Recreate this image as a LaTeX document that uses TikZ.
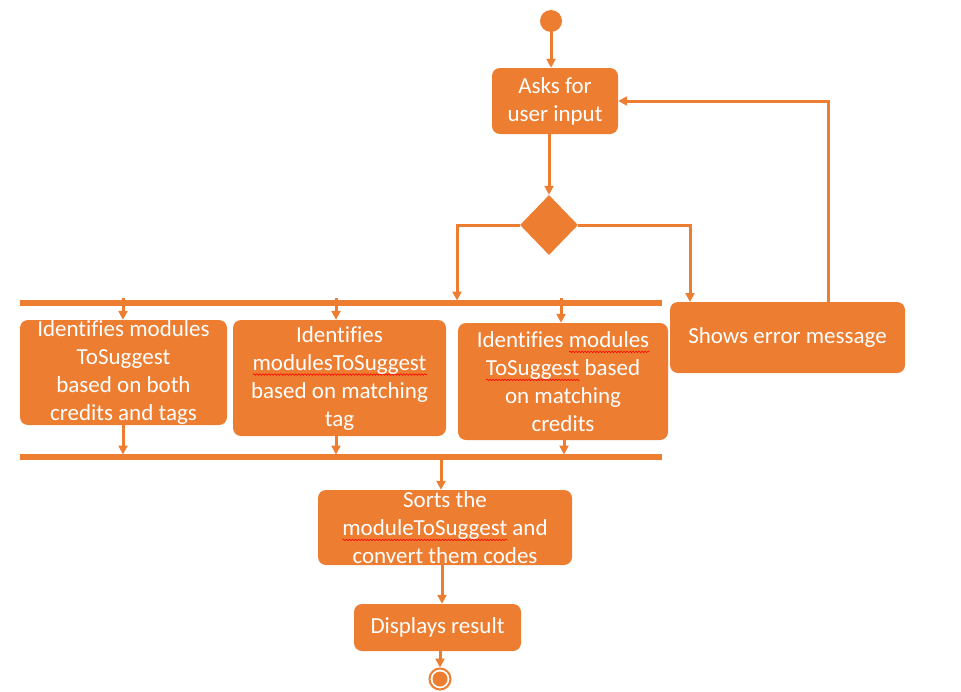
\documentclass[tikz,border=0pt]{standalone}
\usepackage{fontspec}
\setmainfont{Carlito}[Ligatures=NoCommon]
\usetikzlibrary{arrows.meta,shapes.geometric,decorations.pathmorphing}
\definecolor{og}{HTML}{ED7D31}
\newsavebox\spbox
\newlength\spw
\newcommand\spellmark[1]{\sbox\spbox{#1}\setlength\spw{\wd\spbox}%
  \rlap{\raisebox{-4.5pt}{\tikz[baseline=0pt,x=1pt,y=1pt,sharp corners]\draw[red,line width=0.6pt,decorate,
    decoration={snake,amplitude=0.8pt,segment length=3pt}] (0pt,0pt) -- (\spw,0pt);}}%
  \usebox\spbox}
\tikzset{
  act/.style={fill=og, rounded corners=8pt, text=white, align=center, inner sep=0pt,
    font=\fontsize{23}{28}\selectfont},
  flow/.style={draw=og, line width=3pt, -{Triangle[length=9pt,width=9pt]}},
  barline/.style={draw=og, line width=5.5pt},
}
\begin{document}
\begin{tikzpicture}[x=1pt,y=-1pt]
\useasboundingbox (0,0) rectangle (961,691);
% nodes
\node[circle, fill=og, inner sep=0pt, minimum size=22pt] (start) at (551,21) {};
\node[act, minimum width=126pt, minimum height=66pt] (ask) at (555,101) {Asks for\\user input};
\node[diamond, fill=og, inner sep=0pt, minimum width=58pt, minimum height=60pt] (dia) at (549,225) {};
\node[act, minimum width=207pt, minimum height=105pt] (b1) at (123.5,372.5)
  {Identifies modules\\ToSuggest\\based on both\\credits and tags};
\node[act, minimum width=213pt, minimum height=116pt] (b2) at (339.5,378)
  {Identifies\\\spellmark{modulesToSuggest}\\based on matching\\tag};
\node[act, minimum width=210pt, minimum height=117pt] (b3) at (563,381.5)
  {Identifies \spellmark{modules}\\\spellmark{ToSuggest} based\\on matching\\credits};
\node[act, minimum width=235pt, minimum height=71pt] (err) at (787.5,337.5) {Shows error message};
\node[act, minimum width=254pt, minimum height=75pt] (sort) at (445,527.5)
  {Sorts the\\\spellmark{moduleToSuggest} and\\convert them codes};
\node[act, minimum width=167pt, minimum height=47pt] (disp) at (437.5,627.5) {Displays result};
\node[circle, draw=og, line width=2pt, inner sep=0pt, minimum size=21pt] (end) at (440,679) {};
\fill[og] (end.center) circle (7.5pt);
% bars
\coordinate (f1w) at (20,303);
\coordinate (f1e) at (662,303);
\coordinate (f2w) at (20,457);
\coordinate (f2e) at (662,457);
\draw[barline] (f1w) -- (f1e);
\draw[barline] (f2w) -- (f2e);
% helper coordinates
\coordinate (fl) at (457,300.5);
\coordinate (er) at (690,302);
\coordinate (rt) at (828,302);
\coordinate (t1) at (123,298);
\coordinate (t2) at (336,298);
\coordinate (t3) at (561,298);
\coordinate (j1) at (123,454.5);
\coordinate (j2) at (336,454.5);
\coordinate (j3) at (564,454.5);
\coordinate (s0) at (441,459.5);
\coordinate (sd) at (442,0);
% connectors
\draw[flow] (start.south) -- (start.south |- ask.north);
\draw[flow] (dia.north |- ask.south) -- (dia.north);
\draw[flow] (dia.west) -| (fl);
\draw[flow] (dia.east) -| (er);
\draw[flow] (rt) |- (ask.east);
\draw[flow] (t1) -- (t1 |- b1.north);
\draw[flow] (t2) -- (t2 |- b2.north);
\draw[flow] (t3) -- (t3 |- b3.north);
\draw[flow] (j1 |- b1.south) -- (j1);
\draw[flow] (j2 |- b2.south) -- (j2);
\draw[flow] (j3 |- b3.south) -- (j3);
\draw[flow] (s0) -- (s0 |- sort.north);
\draw[flow] (sd |- sort.south) -- (sd |- disp.north);
\draw[flow] (disp.south -| end.north) -- (end.north);
\end{tikzpicture}
\end{document}
